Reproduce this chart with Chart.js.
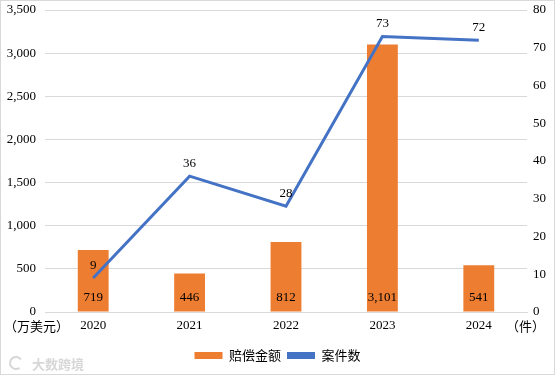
<!DOCTYPE html>
<html lang="zh">
<head>
<meta charset="UTF-8">
<title>赔偿金额与案件数</title>
<style>
  html, body { margin: 0; padding: 0; background: #fff; }
  #wrap { width: 555px; height: 375px; position: relative; }
</style>
</head>
<body>
<div id="wrap">
  <canvas id="chart" width="555" height="375"></canvas>
</div>

<script src="https://cdn.jsdelivr.net/npm/chart.js@4/dist/chart.umd.min.js"></script>
<script>
  // data
  const years = ['2020', '2021', '2022', '2023', '2024'];
  const amounts = [719, 446, 812, 3101, 541];   // 万美元
  const cases = [9, 36, 28, 73, 72];            // 件
  const leftTicks = [0, 500, 1000, 1500, 2000, 2500, 3000, 3500];
  const rightTicks = [0, 10, 20, 30, 40, 50, 60, 70, 80];

  const serif = "'Liberation Serif', 'Times New Roman', serif";
  const cjk = "'Noto Sans CJK SC', sans-serif";

  // value labels, unit captions, frame and watermark
  const extras = {
    id: 'extras',
    afterDatasetsDraw(chart) {
      const ctx = chart.ctx;
      ctx.save();
      ctx.font = '13px ' + serif;
      ctx.fillStyle = '#000';
      ctx.textAlign = 'center';

      chart.getDatasetMeta(0).data.forEach((bar, i) => {
        ctx.textBaseline = 'bottom';
        ctx.fillText(amounts[i].toLocaleString('en-US'), bar.x, bar.base - 7);
      });
      chart.getDatasetMeta(1).data.forEach((pt, i) => {
        ctx.textBaseline = 'bottom';
        ctx.fillText(String(cases[i]), pt.x, pt.y - 6);
      });

      const area = chart.chartArea;
      ctx.font = '13px ' + cjk;
      ctx.textBaseline = 'middle';
      ctx.textAlign = 'left';
      ctx.fillText('（万美元）', 4, area.bottom + 14);
      ctx.fillText('（件）', 506, area.bottom + 14);

      // watermark
      ctx.fillStyle = 'rgba(175,175,175,0.5)';
      ctx.font = 'bold 13px ' + cjk;
      ctx.fillText('大数跨境', 32, 364);
      ctx.strokeStyle = 'rgba(175,175,175,0.5)';
      ctx.lineWidth = 2;
      ctx.beginPath();
      ctx.arc(16, 363, 6, 0.3 * Math.PI, 1.8 * Math.PI);
      ctx.stroke();

      // frame
      ctx.strokeStyle = '#d9d9d9';
      ctx.lineWidth = 1;
      ctx.strokeRect(0.5, 0.5, chart.width - 1, chart.height - 1);
      ctx.restore();
    }
  };

  new Chart(document.getElementById('chart'), {
    data: {
      labels: years,
      datasets: [
        {
          type: 'bar',
          label: '赔偿金额',
          data: amounts,
          backgroundColor: '#ED7D31',
          yAxisID: 'y',
          categoryPercentage: 1,
          barPercentage: 0.32,
          order: 2
        },
        {
          type: 'line',
          label: '案件数',
          data: cases,
          borderColor: '#4472C4',
          backgroundColor: '#4472C4',
          borderWidth: 3,
          pointRadius: 0,
          tension: 0,
          yAxisID: 'y1',
          order: 1
        }
      ]
    },
    options: {
      responsive: false,
      animation: false,
      layout: { padding: { top: 10, right: 0, bottom: 3, left: 0 } },
      plugins: {
        tooltip: { enabled: false },
        legend: {
          position: 'bottom',
          labels: {
            font: { family: cjk, size: 13 },
            color: '#000',
            boxWidth: 28,
            boxHeight: 7,
            padding: 6,
            generateLabels(chart) {
              return chart.data.datasets.map((ds, i) => ({
                text: ds.label,
                fillStyle: ds.type === 'bar' ? '#ED7D31' : '#4472C4',
                strokeStyle: ds.type === 'bar' ? '#ED7D31' : '#4472C4',
                lineWidth: 0,
                datasetIndex: i
              }));
            }
          }
        }
      },
      scales: {
        x: {
          afterFit(scale) { scale.height = 31; },
          grid: { display: false, drawTicks: false },
          border: { display: true, color: '#d9d9d9' },
          ticks: { font: { family: serif, size: 13 }, color: '#000', padding: 6 }
        },
        y: {
          position: 'left',
          min: 0,
          max: 3500,
          afterBuildTicks(scale) { scale.ticks = leftTicks.map(v => ({ value: v })); },
          afterFit(scale) { scale.width = 45; scale.paddingTop = 0; },
          grid: { color: '#d9d9d9', drawTicks: false },
          border: { display: false },
          ticks: {
            font: { family: serif, size: 13, lineHeight: 0.6 },
            color: '#000',
            padding: 9,
            callback: v => v.toLocaleString('en-US')
          }
        },
        y1: {
          position: 'right',
          min: 0,
          max: 80,
          afterBuildTicks(scale) { scale.ticks = rightTicks.map(v => ({ value: v })); },
          afterFit(scale) { scale.width = 28; scale.paddingTop = 0; },
          grid: { display: false, drawTicks: false },
          border: { display: false },
          ticks: { font: { family: serif, size: 13, lineHeight: 0.6 }, color: '#000', padding: 6 }
        }
      }
    },
    plugins: [extras]
  });
</script>
</body>
</html>
